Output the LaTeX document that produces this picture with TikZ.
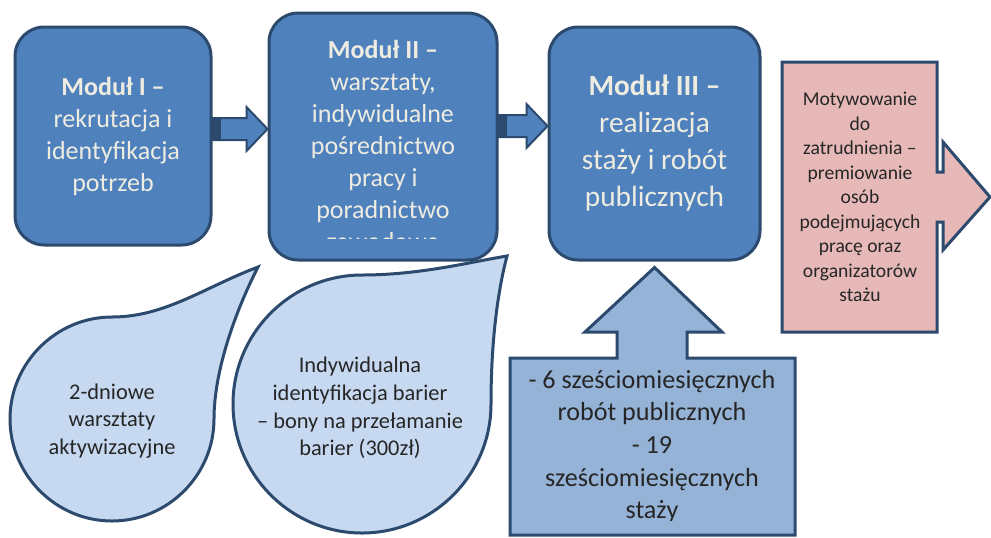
\documentclass[tikz,border=0pt]{standalone}
\usepackage{fontspec}
\setmainfont{Carlito}
\usetikzlibrary{fit,calc}
\definecolor{modblue}{HTML}{4F81BD}
\definecolor{edgeblue}{HTML}{2C4A6E}
\definecolor{dropblue}{HTML}{C6D9F1}
\definecolor{callblue}{HTML}{95B3D7}
\definecolor{callpink}{HTML}{E6B9B8}
\definecolor{modtext}{HTML}{EEECE1}
% block arrow between two modules: #1 start, #2 tip
\newcommand\stripearrow[2]{
  \draw[arrowbody] ($(#1)+(0,-11)$) -- ($(#2)+(-21,-11)$) -- ($(#2)+(-21,-22)$) -- (#2)
    -- ($(#2)+(-21,22)$) -- ($(#2)+(-21,11)$) -- ($(#1)+(0,11)$) -- cycle;
  \fill[edgeblue] ($(#1)+(0,-11)$) rectangle ($(#1)+(8,11)$);
}

\begin{document}
\begin{tikzpicture}[x=0.75pt, y=-0.75pt,
  modbox/.style = {draw=edgeblue, line width=2.25pt, fill=modblue, rounded corners=22pt, inner sep=0pt},
  modtxt/.style = {text=modtext, align=center, inner sep=0pt},
  arrowbody/.style = {draw=edgeblue, line width=1.5pt, fill=modblue, line join=miter},
  drop/.style = {draw=edgeblue, line width=2.25pt, fill=dropblue},
  darktxt/.style = {text=black!85, align=center, inner sep=0pt},
  callbox/.style = {draw=edgeblue, line width=2.25pt, line join=miter}]
\useasboundingbox (0,0) rectangle (991,537);

% modules
\node[modbox, fit={(15,27) (211,245)}] (m1) {};
\node[modtxt, font=\fontsize{19.5pt}{24pt}\selectfont] (t1) at (m1.center)
  {\textbf{Moduł I –}\\rekrutacja i\\identyfikacja\\potrzeb};
\node[modbox, fit={(269,13) (497,260)}] (m2) {};
\begin{scope}
  \clip (269,13) rectangle (497,238);
  \node[modtxt, anchor=north, font=\fontsize{19.5pt}{24pt}\selectfont] (t2) at (383,40)
    {\textbf{Moduł II –}\\warsztaty,\\indywidualne\\pośrednictwo\\pracy i\\poradnictwo\\zawodowe};
\end{scope}
\node[modbox, fit={(549,27) (760,260)}] (m3) {};
\node[modtxt, font=\fontsize{22pt}{27.75pt}\selectfont] (t3) at (m3.center)
  {\textbf{Moduł III –}\\realizacja\\staży i robót\\publicznych};

% arrows between modules
\path (0,129) coordinate (h1) (0,126) coordinate (h2);
\stripearrow{m1.east |- h1}{m2.west |- h1}
\stripearrow{m2.east |- h2}{m3.west |- h2}

% teardrops
\draw[drop] (258,267) .. controls (205,287) and (165,317) .. (112,317)
  .. controls (56,317) and (10,363) .. (10,419) .. controls (10,475) and (56,521) .. (112,521)
  .. controls (168,521) and (214,475) .. (214,419) .. controls (214,370) and (236,310) .. (258,267) -- cycle;
\node[darktxt, font=\fontsize{16.8pt}{20.8pt}\selectfont] (d1) at (112,421)
  {2-dniowe\\warsztaty\\aktywizacyjne};
\draw[drop] (507,256) .. controls (470,262) and (420,275) .. (362,275)
  .. controls (291,275) and (233,333) .. (233,404) .. controls (233,475) and (291,533) .. (362,533)
  .. controls (433,533) and (491,475) .. (491,404) .. controls (491,340) and (498,290) .. (507,256) -- cycle;
\node[darktxt, font=\fontsize{16.8pt}{20.8pt}\selectfont] (d2) at (360,408)
  {Indywidualna\\identyfikacja barier\\– bony na przełamanie\\barier (300zł)};

% up arrow callout
\coordinate (up) at ($(m3.south)+(0,6)$);
\draw[callbox, fill=callblue] (510,535) -- (510,358) -- (617,358) -- (617,332) -- (585,332) -- (up)
  -- (722,332) -- (687,332) -- (687,358) -- (795,358) -- (795,535) -- cycle;
\begin{scope}
  \clip (510,358) rectangle (795,520);
  \node[darktxt, anchor=north, font=\fontsize{19.6pt}{24.4pt}\selectfont] (c1) at (652,370)
    {- 6 sześciomiesięcznych\\robót publicznych\\- 19\\sześciomiesięcznych\\staży};
\end{scope}

% right arrow callout
\draw[callbox, fill=callpink] (782,62) -- (937,62) -- (937,172) -- (943,172) -- (943,142) -- (990,197)
  -- (943,250) -- (943,222) -- (937,222) -- (937,332) -- (782,332) -- cycle;
\node[darktxt, font=\fontsize{14.7pt}{18.4pt}\selectfont] (mot) at (860,197)
  {Motywowanie\\do\\zatrudnienia –\\premiowanie\\osób\\podejmujących\\pracę oraz\\organizatorów\\stażu};
\end{tikzpicture}
\end{document}
